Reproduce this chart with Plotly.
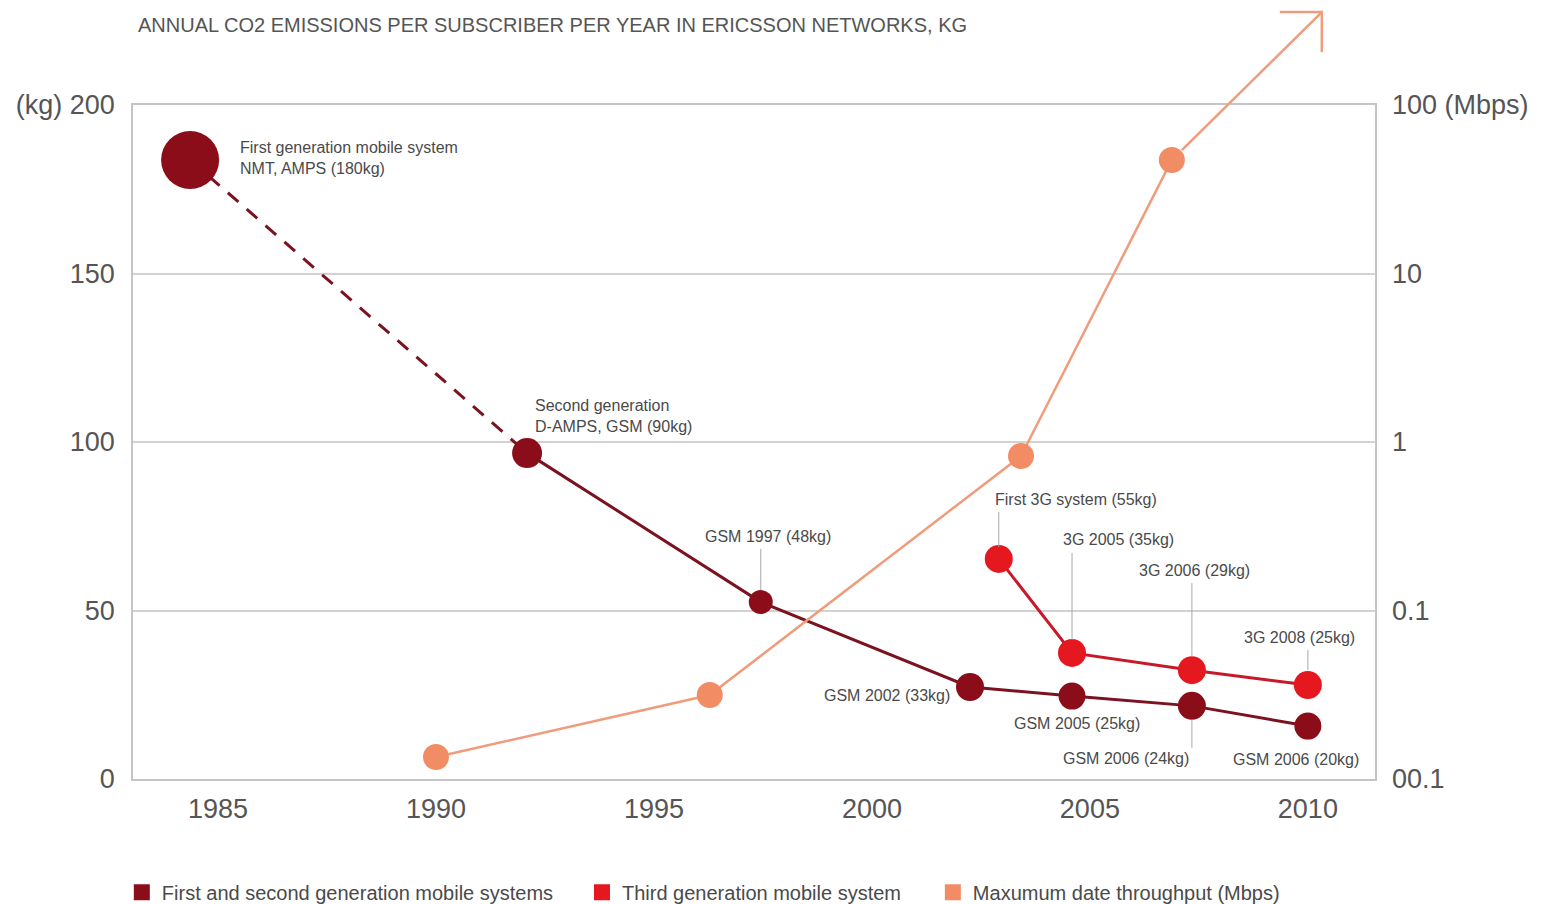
import math
import plotly.graph_objects as go

# ---------------- data ----------------
# First and second generation mobile systems (kg CO2 per subscriber per year)
gen12_years = [1984.36, 1992.09, 1997.45, 2002.25, 2004.59, 2007.34, 2010.0]
gen12_kg = [183.7, 96.7, 52.5, 27.3, 24.6, 21.7, 15.7]
gen12_labels = [
    "First generation mobile system<br>NMT, AMPS (180kg)",
    "Second generation<br>D-AMPS, GSM (90kg)",
    "GSM 1997 (48kg)",
    "GSM 2002 (33kg)",
    "GSM 2005 (25kg)",
    "GSM 2006 (24kg)",
    "GSM 2006 (20kg)",
]

# Third generation mobile system
gen3_years = [2002.91, 2004.59, 2007.34, 2010.0]
gen3_kg = [65.3, 37.4, 32.3, 27.9]
gen3_labels = [
    "First 3G system (55kg)",
    "3G 2005 (35kg)",
    "3G 2006 (29kg)",
    "3G 2008 (25kg)",
]

# Maximum data throughput (Mbps), log axis
tp_years = [1990.0, 1996.28, 2003.42, 2006.88]
tp_mbps = [0.0135, 0.0315, 0.826, 47.2]
tp_arrow_tip_year = 2010.32
tp_arrow_tip_mbps = 356.0

x_ticks = [1985, 1990, 1995, 2000, 2005, 2010]
kg_ticks = [0, 50, 100, 150, 200]
kg_ticktext = ["0", "50", "100", "150", "(kg) 200"]
mbps_ticks = [0.01, 0.1, 1, 10, 100]
mbps_ticktext = ["00.1", "0.1", "1", "10", "100 (Mbps)"]

legend_names = [
    "First and second generation mobile systems",
    "Third generation mobile system",
    "Maxumum date throughput (Mbps)",
]
title_text = "ANNUAL CO2 EMISSIONS PER SUBSCRIBER PER YEAR IN ERICSSON NETWORKS, KG"

X_RANGE = [1983.05, 2011.54]
Y_RANGE = [0, 200]
Y2_LOG_RANGE = [-2, 2]

# ---------------- styles ----------------
FONT = "Liberation Sans, Arial, Helvetica, sans-serif"
DARK = "#8C0D1A"
DARK_LINE = "#7A1220"
RED = "#E5171F"
RED_LINE = "#C8182A"
SALMON = "#F28C64"
SALMON_LINE = "#F09C7C"
TXT = "#4A4A4A"
AXTXT = "#555555"
GRID = "#D2D2D2"

gen12_sizes = [58, 30, 24, 28, 27, 28, 27]
gen3_sizes = [28, 28, 28, 28]

fig = go.Figure()

# dashed segment 1G -> 2G
fig.add_trace(go.Scatter(
    x=gen12_years[:2], y=gen12_kg[:2], mode="lines",
    line=dict(color=DARK_LINE, width=3, dash="14px,11px"),
    showlegend=False, hoverinfo="skip"))
# solid 2G onwards
fig.add_trace(go.Scatter(
    x=gen12_years[1:], y=gen12_kg[1:], mode="lines",
    line=dict(color=DARK_LINE, width=3),
    showlegend=False, hoverinfo="skip"))
# markers 1G/2G
fig.add_trace(go.Scatter(
    x=gen12_years, y=gen12_kg, mode="markers",
    marker=dict(color=DARK, size=gen12_sizes, opacity=1, line=dict(width=0)),
    showlegend=False))
# 3G
fig.add_trace(go.Scatter(
    x=gen3_years, y=gen3_kg, mode="lines+markers",
    line=dict(color=RED_LINE, width=3),
    marker=dict(color=RED, size=gen3_sizes, opacity=1, line=dict(width=0)),
    showlegend=False))
# throughput
fig.add_trace(go.Scatter(
    x=tp_years, y=tp_mbps, mode="lines+markers", yaxis="y2",
    line=dict(color=SALMON_LINE, width=2.5),
    marker=dict(color=SALMON, size=26, opacity=1, line=dict(width=0)),
    showlegend=False))

# legend entries (square swatches), one legend each
for i, (name, col) in enumerate(zip(legend_names, [DARK, RED, SALMON])):
    fig.add_trace(go.Scatter(
        x=[None], y=[None], mode="markers", name=name,
        marker=dict(symbol="square", size=22, color=col),
        legend="legend" if i == 0 else f"legend{i+1}",
        showlegend=True))

annotations = []
shapes = []

# point labels: (offset x px, offset y px, anchor)
gen12_label_pos = [(48, 2, "left"), (6, 37, "left"), (7, 66, "center"),
                   (-18, -8, "right"), (5, -27, "center"), (-66, -53, "center"),
                   (-12, -33, "center")]
gen3_label_pos = [(-6, 59, "left"), (46, 113, "center"), (3, 100, "center"),
                  (-8, 47, "center")]

for xs, ys, labs, pos in [(gen12_years, gen12_kg, gen12_labels, gen12_label_pos),
                          (gen3_years, gen3_kg, gen3_labels, gen3_label_pos)]:
    for xv, yv, lab, (dx, dy, anc) in zip(xs, ys, labs, pos):
        annotations.append(dict(
            x=xv, y=yv, xref="x", yref="y", text=lab, showarrow=False,
            xshift=dx, yshift=dy, xanchor=anc, yanchor="middle", align="left",
            font=dict(family=FONT, size=16, color=TXT)))

# leader lines (pixel offsets relative to the point)
gen12_leaders = {2: (12, 53), 5: (-14, -42)}
gen3_leaders = {0: (12, 47), 1: (13, 100), 2: (14, 87), 3: (15, 35)}
for xs, ys, leaders in [(gen12_years, gen12_kg, gen12_leaders),
                        (gen3_years, gen3_kg, gen3_leaders)]:
    for idx, (a, b) in leaders.items():
        shapes.append(dict(
            type="line", xref="x", yref="y", ysizemode="pixel",
            yanchor=ys[idx], x0=xs[idx], x1=xs[idx], y0=a, y1=b,
            line=dict(color="#A8A8A8", width=1)))

# throughput arrow going off the chart (line from last point to the tip)
tip_y = math.log10(tp_arrow_tip_mbps)
annotations.append(dict(
    x=tp_arrow_tip_year, y=tip_y, xref="x", yref="y2",
    ax=tp_years[-1], ay=math.log10(tp_mbps[-1]), axref="x", ayref="y2",
    text="", showarrow=True, arrowhead=0, arrowwidth=2.5,
    arrowcolor=SALMON_LINE, startstandoff=12))
# open arrow head at the tip (tip position mapped to paper fractions via axis ranges)
tip_paper_x = (tp_arrow_tip_year - X_RANGE[0]) / (X_RANGE[1] - X_RANGE[0])
tip_paper_y = (tip_y - Y2_LOG_RANGE[0]) / (Y2_LOG_RANGE[1] - Y2_LOG_RANGE[0])
for (x0, x1, y0, y1) in [(1.2, -42, 0, 0), (0, 0, 1.2, -40)]:
    shapes.append(dict(
        type="line", xref="paper", yref="paper", xsizemode="pixel",
        ysizemode="pixel", xanchor=tip_paper_x, yanchor=tip_paper_y,
        x0=x0, x1=x1, y0=y0, y1=y1, layer="above",
        line=dict(color=SALMON_LINE, width=2.5)))

tickfont = dict(family=FONT, size=27, color=AXTXT)
legfont = dict(family=FONT, size=20, color=TXT)
leg_common = dict(orientation="h", yanchor="middle", y=-0.168, xanchor="left",
                  font=legfont, bgcolor="rgba(0,0,0,0)", itemclick=False)

fig.update_layout(
    width=1542, height=904, autosize=False,
    margin=dict(l=133, r=167, t=105, b=125, pad=0, autoexpand=False),
    paper_bgcolor="white", plot_bgcolor="white",
    title=dict(text=title_text, x=138 / 1542, xanchor="left", xref="container",
               y=1 - 25 / 904, yanchor="middle", yref="container",
               font=dict(family=FONT, size=20, color=AXTXT)),
    xaxis=dict(range=X_RANGE, tickvals=x_ticks, showgrid=False,
               zeroline=False, showline=True, mirror=True, linecolor="#C5C5C5",
               linewidth=1.5, ticks="", tickfont=tickfont, ticklabelstandoff=5),
    yaxis=dict(range=Y_RANGE, tickvals=kg_ticks, ticktext=kg_ticktext,
               showgrid=True, gridcolor=GRID, gridwidth=1.5, zeroline=False,
               showline=True, mirror=True, linecolor="#C5C5C5", linewidth=1.5,
               ticks="", tickfont=tickfont, ticklabelstandoff=11),
    yaxis2=dict(type="log", range=Y2_LOG_RANGE, overlaying="y", side="right",
                tickvals=mbps_ticks, ticktext=mbps_ticktext, showgrid=False,
                zeroline=False, showline=False, ticks="", tickfont=tickfont,
                ticklabelstandoff=16),
    legend=dict(x=-0.009, **leg_common),
    legend2=dict(x=0.3615, **leg_common),
    legend3=dict(x=0.644, **leg_common),
    annotations=annotations,
    shapes=shapes,
    hovermode=False,
)

fig.write_html("out.html")
